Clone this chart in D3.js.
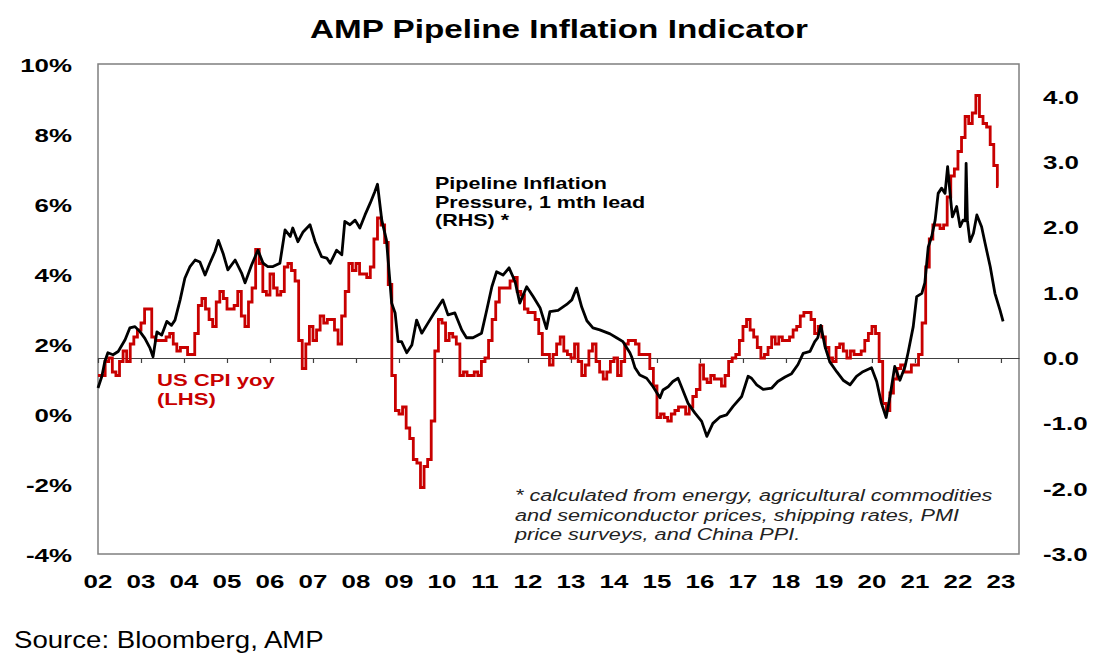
<!DOCTYPE html>
<html>
<head>
<meta charset="utf-8">
<script src="https://cdn.jsdelivr.net/npm/d3@7"></script>
<style>
  body { margin: 0; background: #fff; }
  svg { display: block; font-family: "Liberation Sans", Arial, sans-serif; }
</style>
</head>
<body>
<svg id="chart" width="1107" height="668"></svg>
<script>
// US CPI yoy %, monthly from Jan 2002 (LHS)
var cpiStart = 2002;
var cpiValues = [
  1.1, 1.1, 1.5, 1.6, 1.2, 1.1, 1.5, 1.8, 1.5, 2.0, 2.2, 2.4,
  2.6, 3.0, 3.0, 2.2, 2.1, 2.1, 2.1, 2.2, 2.3, 2.0, 1.8, 1.9,
  1.9, 1.7, 1.7, 2.3, 3.1, 3.3, 3.0, 2.7, 2.5, 3.2, 3.5, 3.3,
  3.0, 3.0, 3.1, 3.5, 2.8, 2.5, 3.2, 3.6, 4.7, 4.3, 3.5, 3.4,
  4.0, 3.6, 3.4, 3.5, 4.2, 4.3, 4.1, 3.8, 2.1, 1.3, 2.0, 2.5,
  2.1, 2.4, 2.8, 2.6, 2.7, 2.7, 2.4, 2.0, 2.8, 3.5, 4.3, 4.1,
  4.3, 4.0, 4.0, 3.9, 4.2, 5.0, 5.6, 5.4, 4.9, 3.7, 1.1, 0.1,
  0.0, 0.2, -0.4, -0.7, -1.3, -1.4, -2.1, -1.5, -1.3, -0.2, 1.8, 2.7,
  2.6, 2.1, 2.3, 2.2, 2.0, 1.1, 1.2, 1.1, 1.1, 1.2, 1.1, 1.5,
  1.6, 2.1, 2.7, 3.2, 3.6, 3.6, 3.6, 3.8, 3.9, 3.5, 3.4, 3.0,
  2.9, 2.9, 2.7, 2.3, 1.7, 1.7, 1.4, 1.7, 2.0, 2.2, 1.8, 1.7,
  1.6, 2.0, 1.5, 1.1, 1.4, 1.8, 2.0, 1.5, 1.2, 1.0, 1.2, 1.5,
  1.6, 1.1, 1.5, 2.0, 2.1, 2.1, 2.0, 1.7, 1.7, 1.7, 1.3, 0.8,
  -0.1, 0.0, -0.1, -0.2, 0.0, 0.1, 0.2, 0.2, 0.0, 0.2, 0.5, 0.7,
  1.4, 1.0, 0.9, 1.1, 1.0, 1.0, 0.8, 1.1, 1.5, 1.6, 1.7, 2.1,
  2.5, 2.7, 2.4, 2.2, 1.9, 1.6, 1.7, 1.9, 2.2, 2.0, 2.2, 2.1,
  2.1, 2.2, 2.4, 2.5, 2.8, 2.9, 2.9, 2.7, 2.3, 2.5, 2.2, 1.9,
  1.6, 1.5, 1.9, 2.0, 1.8, 1.6, 1.8, 1.7, 1.7, 1.8, 2.1, 2.3,
  2.5, 2.3, 1.5, 0.3, 0.1, 0.6, 1.0, 1.3, 1.4, 1.2, 1.2, 1.4,
  1.4, 1.7, 2.6, 4.2, 5.0, 5.4, 5.4, 5.3, 5.4, 6.2, 6.8, 7.0,
  7.5, 7.9, 8.5, 8.3, 8.6, 9.1, 8.5, 8.3, 8.2, 7.7, 7.1, 6.5
];

// Pipeline Inflation Pressure, 1 mth lead (RHS)
var pipeDates = [
  2002.00, 2002.09, 2002.16, 2002.23, 2002.35, 2002.47, 2002.63, 2002.74, 2002.86, 2002.98,
  2003.09, 2003.21, 2003.28, 2003.37, 2003.48, 2003.60, 2003.71, 2003.79, 2003.91, 2004.02,
  2004.14, 2004.26, 2004.37, 2004.49, 2004.60, 2004.72, 2004.80, 2004.91, 2005.02, 2005.19,
  2005.34, 2005.42, 2005.57, 2005.72, 2005.84, 2005.95, 2006.07, 2006.23, 2006.35, 2006.47,
  2006.53, 2006.65, 2006.77, 2006.93, 2007.05, 2007.20, 2007.32, 2007.40, 2007.55, 2007.67,
  2007.74, 2007.86, 2007.98, 2008.09, 2008.21, 2008.33, 2008.44, 2008.50, 2008.60, 2008.71,
  2008.83, 2008.91, 2008.98, 2009.06, 2009.18, 2009.30, 2009.41, 2009.53, 2009.67, 2009.84,
  2010.02, 2010.14, 2010.30, 2010.46, 2010.57, 2010.72, 2010.92, 2011.04, 2011.16, 2011.27,
  2011.42, 2011.56, 2011.70, 2011.81, 2011.97, 2012.12, 2012.28, 2012.43, 2012.51, 2012.70,
  2012.90, 2013.02, 2013.13, 2013.25, 2013.37, 2013.51, 2013.67, 2013.91, 2014.06, 2014.21,
  2014.37, 2014.41, 2014.49, 2014.60, 2014.76, 2014.91, 2015.07, 2015.14, 2015.26, 2015.37,
  2015.49, 2015.57, 2015.72, 2015.88, 2016.04, 2016.16, 2016.30, 2016.47, 2016.62, 2016.77,
  2016.97, 2017.12, 2017.20, 2017.32, 2017.47, 2017.67, 2017.81, 2017.98, 2018.13, 2018.28,
  2018.40, 2018.56, 2018.67, 2018.74, 2018.81, 2018.91, 2019.02, 2019.18, 2019.33, 2019.49,
  2019.64, 2019.79, 2019.99, 2020.11, 2020.22, 2020.33, 2020.42, 2020.53, 2020.65, 2020.77,
  2020.84, 2020.96, 2021.04, 2021.16, 2021.23, 2021.31, 2021.39, 2021.47, 2021.54, 2021.62,
  2021.70, 2021.76, 2021.81, 2021.87, 2021.97, 2022.05, 2022.12, 2022.17, 2022.19, 2022.22,
  2022.28, 2022.36, 2022.44, 2022.55, 2022.63, 2022.75, 2022.86, 2022.98, 2023.05
];
var pipeValues = [
  -0.46, -0.28, -0.05, 0.08, 0.05, 0.10, 0.28, 0.46, 0.48, 0.40,
  0.30, 0.15, 0.02, 0.40, 0.35, 0.56, 0.50, 0.58, 0.89, 1.22,
  1.40, 1.50, 1.47, 1.27, 1.45, 1.63, 1.80, 1.60, 1.35, 1.50,
  1.30, 1.15, 1.42, 1.65, 1.45, 1.40, 1.40, 1.45, 1.96, 1.86,
  1.99, 1.78, 1.93, 2.04, 1.78, 1.55, 1.53, 1.45, 1.65, 1.58,
  2.09, 2.04, 2.11, 1.99, 2.19, 2.37, 2.55, 2.66, 2.11, 1.80,
  0.84, 0.69, 0.25, 0.25, 0.08, 0.20, 0.58, 0.38, 0.53, 0.71,
  0.89, 0.66, 0.69, 0.43, 0.31, 0.31, 0.38, 0.73, 1.09, 1.32,
  1.27, 1.38, 1.17, 0.84, 1.09, 0.94, 0.77, 0.45, 0.71, 0.73,
  0.82, 0.89, 1.07, 0.78, 0.57, 0.46, 0.43, 0.37, 0.31, 0.25,
  0.08, 0.02, -0.15, -0.26, -0.31, -0.44, -0.61, -0.49, -0.44, -0.36,
  -0.31, -0.44, -0.69, -0.84, -0.97, -1.20, -1.00, -0.90, -0.87, -0.74,
  -0.59, -0.28, -0.31, -0.41, -0.48, -0.46, -0.36, -0.29, -0.24, -0.10,
  0.07, 0.10, 0.25, 0.31, 0.50, 0.17, -0.06, -0.21, -0.34, -0.41,
  -0.28, -0.21, -0.15, -0.36, -0.69, -0.91, -0.59, -0.13, -0.34, -0.13,
  0.08, 0.48, 0.94, 0.99, 1.15, 1.70, 1.86, 2.11, 2.52, 2.60,
  2.52, 2.93, 2.57, 2.16, 2.32, 2.01, 2.11, 2.10, 2.98, 2.11,
  1.78, 1.91, 2.19, 2.01, 1.76, 1.40, 0.99, 0.73, 0.56
];

var yearTicks = d3.range(2002, 2024);
var leftTicks = [-4, -2, 0, 2, 4, 6, 8, 10];
var rightTicks = [-3, -2, -1, 0, 1, 2, 3, 4];

var svg = d3.select("#chart");
var plotL = 98, plotR = 1019, plotT = 64, plotB = 554;

var x = d3.scaleLinear().domain([2002, 2023.42]).range([plotL, plotR]);
var yL = d3.scaleLinear().domain([-4, 10]).range([plotB, plotT]);
var yR = d3.scaleLinear().domain([-3, 4.5]).range([plotB, plotT]);

// stretched text, the source picture is wider than it is tall
function label(g, txt, px, py, size, sx, opts) {
  opts = opts || {};
  return g.append("text")
    .attr("transform", "translate(" + px + "," + py + ") scale(" + sx + ",1)")
    .attr("text-anchor", opts.anchor || "start")
    .style("font-size", size + "px")
    .style("font-weight", opts.weight || "bold")
    .style("font-style", opts.style || "normal")
    .style("fill", opts.fill || "#000")
    .text(txt);
}

// title
label(svg, "AMP Pipeline Inflation Indicator", 559, 38, 25, 1.33, { anchor: "middle" });

// frame
svg.append("rect")
  .attr("x", plotL).attr("y", plotT)
  .attr("width", plotR - plotL).attr("height", plotB - plotT)
  .attr("fill", "none")
  .attr("stroke", "#7f7f7f")
  .attr("stroke-width", 1.5);

// zero line with year ticks
var zeroAxis = svg.append("g")
  .attr("transform", "translate(0," + yR(0) + ")")
  .call(d3.axisBottom(x).tickValues(yearTicks).tickSize(5).tickSizeOuter(0).tickFormat(""));
zeroAxis.select(".domain").attr("stroke", "#404040").attr("stroke-width", 1.2);
zeroAxis.selectAll(".tick line").attr("stroke", "#404040").attr("stroke-width", 1.2);

// left axis labels
var gl = svg.append("g");
leftTicks.forEach(function (d) {
  label(gl, d + "%", 72, yL(d) + 8, 18.5, 1.4, { anchor: "end" });
});

// right axis labels
var gr = svg.append("g");
rightTicks.forEach(function (d) {
  label(gr, d.toFixed(1), 1043, yR(d) + 7, 18.5, 1.4);
});

// year labels
var gx = svg.append("g");
yearTicks.forEach(function (d) {
  label(gx, String(d).slice(2), x(d), 588, 18.5, 1.4, { anchor: "middle" });
});

// CPI step line
var cpiPoints = cpiValues.map(function (v, i) {
  return { t: cpiStart + i / 12, v: v };
});
cpiPoints.push({ t: cpiStart + cpiValues.length / 12 - 0.06, v: cpiValues[cpiValues.length - 1] });

var cpiLine = d3.line()
  .x(function (d) { return x(d.t); })
  .y(function (d) { return yL(d.v); })
  .curve(d3.curveStepAfter);

svg.append("path")
  .datum(cpiPoints)
  .attr("d", cpiLine)
  .attr("fill", "none")
  .attr("stroke", "#c80000")
  .attr("stroke-width", 2.8)
  .attr("stroke-linejoin", "miter");

// pipeline line
var pipePoints = pipeDates.map(function (t, i) {
  return { t: t, v: pipeValues[i] };
});

var pipeLine = d3.line()
  .x(function (d) { return x(d.t); })
  .y(function (d) { return yR(d.v); });

svg.append("path")
  .datum(pipePoints)
  .attr("d", pipeLine)
  .attr("fill", "none")
  .attr("stroke", "#000")
  .attr("stroke-width", 2.8)
  .attr("stroke-linejoin", "round");

// series labels
label(svg, "US CPI yoy", 157, 386, 17, 1.3, { fill: "#c80000" });
label(svg, "(LHS)", 157, 405, 17, 1.3, { fill: "#c80000" });

label(svg, "Pipeline Inflation", 435, 189, 16.8, 1.28);
label(svg, "Pressure, 1 mth lead", 435, 208, 16.8, 1.28);
label(svg, "(RHS) *", 435, 226, 16.8, 1.28);

// footnote
var notes = [
  "* calculated from energy, agricultural commodities",
  "and semiconductor prices, shipping rates, PMI",
  "price surveys, and China PPI."
];
notes.forEach(function (n, i) {
  label(svg, n, 515, 501 + i * 19.5, 16.3, 1.33, { weight: "normal", style: "italic", fill: "#222" });
});

// source
label(svg, "Source: Bloomberg, AMP", 14, 648, 23, 1.2, { weight: "normal" });
</script>
</body>
</html>
